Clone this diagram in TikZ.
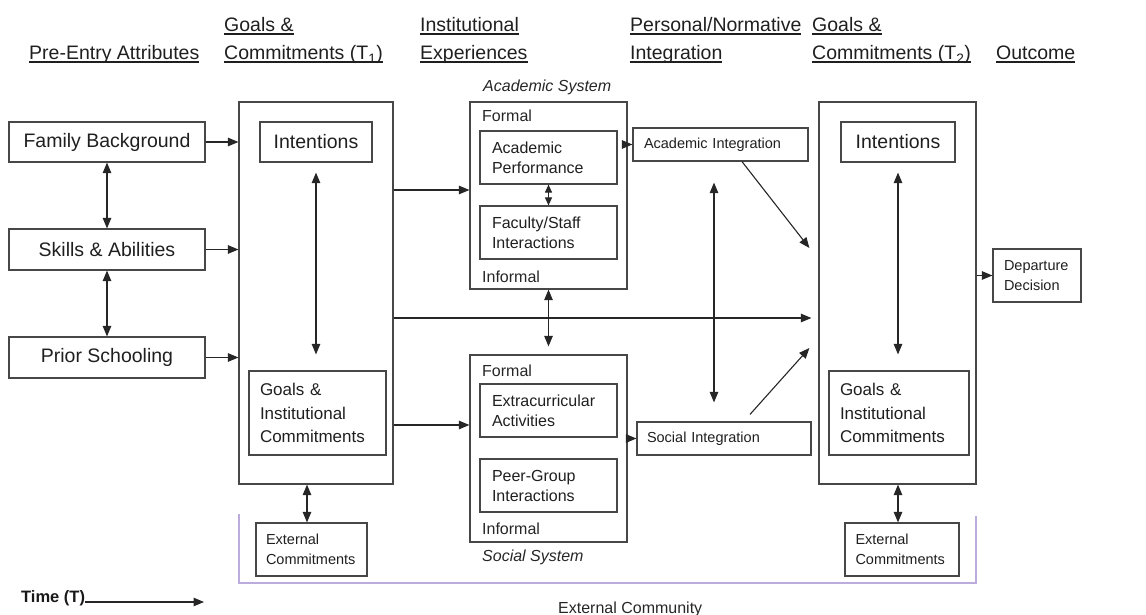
\documentclass[tikz,border=0pt]{standalone}
\usepackage{fontspec}
\setmainfont{Liberation Sans}
\usepackage{tikz}
\usetikzlibrary{arrows.meta}

\newcommand{\hdline}[1]{\setbox0=\hbox{#1}\rlap{\rule[-2.6pt]{\wd0}{1.1pt}}\box0}
\newcommand{\bigf}{\fontsize{19.5}{28}\selectfont}
\newcommand{\goalf}{\fontsize{17}{23.3}\selectfont}
\newcommand{\midf}{\fontsize{16}{20}\selectfont}
\newcommand{\smallf}{\fontsize{14.5}{19.5}\selectfont}
\definecolor{commline}{RGB}{188,172,222}

\tikzset{
    box/.style={draw=black!72, line width=1.2pt, inner sep=0pt, text=black!88},
    lbox/.style={box, align=left, inner xsep=11pt},
    hd/.style={anchor=base west, inner sep=0pt, font=\bigf, text=black!88},
    lbl/.style={anchor=base west, inner sep=0pt, font=\midf, text=black!85},
    conn/.style={line width=1.1pt, draw=black!85}
}

\begin{document}
\begin{tikzpicture}[x=1pt, y=-1pt, >={Triangle[length=10.5pt,width=8.5pt]}]
    \useasboundingbox (0,0) rectangle (1146,615);
    % column headers
    \node[hd] (hpre) at (29,60) {\hdline{Pre-Entry Attributes}};
    \node[hd] (hgoala) at (224,32) {\hdline{Goals \&}};
    \node[hd] (hgoalb) at (224,60) {\hdline{Commitments (T\textsubscript{1})}};
    \node[hd] (hinsta) at (420,32) {\hdline{Institutional}};
    \node[hd] (hinstb) at (420,60) {\hdline{Experiences}};
    \node[hd] (hpersa) at (630,32) {\hdline{Personal/Normative}};
    \node[hd] (hpersb) at (630,60) {\hdline{Integration}};
    \node[hd] (htwoa) at (812,32) {\hdline{Goals \&}};
    \node[hd] (htwob) at (812,60) {\hdline{Commitments (T\textsubscript{2})}};
    \node[hd] (hout) at (996,60) {\hdline{Outcome}};

    % pre-entry attributes
    \node[box, minimum width=196pt, minimum height=40pt, font=\bigf] (fam) at (107,142) {Family Background};
    \node[box, minimum width=196pt, minimum height=41pt, font=\bigf] (skill) at (107,249.5) {Skills \& Abilities};
    \node[box, minimum width=196pt, minimum height=41pt, font=\bigf] (prior) at (107,357.5) {Prior Schooling};

    % goals and commitments T1
    \node[box, minimum width=154pt, minimum height=382pt] (tone) at (316,293) {};
    \node[box, minimum width=112pt, minimum height=40pt, font=\bigf] (inta) at (316,142) {Intentions};
    \node[lbox, text width=115pt, minimum height=84pt, font=\goalf] (goala) at (317.5,413) {Goals \&\\Institutional\\Commitments};
    \node[lbox, inner xsep=10pt, text width=91pt, minimum height=53pt, font=\smallf] (exta) at (311.5,549.5) {External\\Commitments};

    % institutional experiences
    \node[box, minimum width=157pt, minimum height=187pt] (acad) at (548.5,195.5) {};
    \node[box, minimum width=157pt, minimum height=187pt] (soc) at (548.5,448.5) {};
    \node[lbox, inner xsep=12pt, text width=113pt, minimum height=53pt, font=\midf] (perf) at (548.5,157.5) {Academic\\Performance};
    \node[lbox, inner xsep=12pt, text width=113pt, minimum height=53pt, font=\midf] (fac) at (548.5,232.5) {Faculty/Staff\\Interactions};
    \node[lbox, inner xsep=12pt, text width=113pt, minimum height=53pt, font=\midf] (extra) at (548.5,410.5) {Extracurricular\\Activities};
    \node[lbox, inner xsep=12pt, text width=113pt, minimum height=53pt, font=\midf] (peer) at (548.5,485.5) {Peer-Group\\Interactions};
    \node[lbl, font=\midf\itshape] (acadsys) at (483,92) {Academic System};
    \node[lbl] (acadformal) at (482,122) {Formal};
    \node[lbl] (acadinformal) at (482,282) {Informal};
    \node[lbl] (socformal) at (482,376) {Formal};
    \node[lbl] (socinformal) at (482,534) {Informal};
    \node[lbl, font=\midf\itshape] (socsys) at (482,561) {Social System};

    % integration
    \node[lbox, text width=153pt, minimum height=33pt, font=\smallf] (acint) at (720.5,144.5) {Academic Integration};
    \node[lbox, inner xsep=10pt, text width=154pt, minimum height=33pt, font=\smallf] (socint) at (724,438.5) {Social Integration};

    % goals and commitments T2
    \node[box, minimum width=157pt, minimum height=382pt] (ttwo) at (897.5,293) {};
    \node[box, minimum width=114pt, minimum height=40pt, font=\bigf] (intb) at (898,142) {Intentions};
    \node[lbox, text width=118pt, minimum height=84pt, font=\goalf] (goalb) at (899,413) {Goals \&\\Institutional\\Commitments};
    \node[lbox, inner xsep=10.5pt, text width=93pt, minimum height=53pt, font=\smallf] (extb) at (902,549.5) {External\\Commitments};

    % outcome
    \node[lbox, text width=66pt, minimum height=53pt, font=\smallf] (dep) at (1037,275.5) {Departure\\Decision};

    % time and community
    \node[anchor=base west, inner sep=0pt, font=\fontsize{16.5}{20}\selectfont\bfseries, text=black!90] (time) at (21,602) {Time (T)};
    \coordinate (tend) at (204,602);
    \node[anchor=base west, inner sep=0pt, font=\fontsize{16}{20}\selectfont, text=black!85] (comm) at (558,613.5) {External Community};
    \draw[commline, line width=1.2pt] (239,514) -- (239,583) -- (976,583) -- (976,516);

    % connectors
    \draw[conn,->] (fam.east) -- (fam.east -| tone.west);
    \draw[conn,->] (skill.east) -- (skill.east -| tone.west);
    \draw[conn,->] (prior.east) -- (prior.east -| tone.west);
    \draw[conn,<->] (fam.south) -- (skill.north);
    \draw[conn,<->] (skill.south) -- (prior.north);
    \draw[conn,<->, shorten <=10pt, shorten >=16pt] (inta.south) -- (inta.south |- goala.north);
    \draw[conn,<->] ([xshift=-4.5pt]exta.north |- tone.south) -- ([xshift=-4.5pt]exta.north);
    \draw[conn,->] ([yshift=5.5pt]tone.east |- acad.west) -- ([yshift=5.5pt]acad.west);
    \draw[conn,->] ([yshift=-12pt]tone.east |- goala.east) -- ([yshift=-12pt]soc.west |- goala.east);
    \draw[conn,{Triangle[length=8pt,width=7pt]}-{Triangle[length=8pt,width=7pt]}] (perf.south) -- (fac.north);
    \draw[conn,<->, shorten >=8pt] (acad.south) -- (soc.north);
    \draw[conn,->, shorten >=7pt] ([yshift=-25pt]tone.east) -- ([yshift=-25pt]ttwo.west);
    \draw[conn,->] (acad.east |- acint.west) -- (acint.west);
    \draw[conn,->] (soc.east |- socint.west) -- (socint.west);
    \draw[conn,<->, shorten <=21pt, shorten >=19pt] ([xshift=-6.5pt]acint.south) -- ([xshift=-6.5pt]acint.south |- socint.north);
    \draw[conn,->] ([xshift=21.5pt]acint.south) -- ([xshift=-9pt,yshift=45pt]ttwo.west);
    \draw[conn,->] ([xshift=26pt,yshift=7pt]socint.north) -- ([xshift=-9pt,yshift=-55pt]ttwo.west);
    \draw[conn,<->, shorten <=10pt, shorten >=16pt] (intb.south) -- (intb.south |- goalb.north);
    \draw[conn,<->] ([xshift=-4pt]extb.north |- ttwo.south) -- ([xshift=-4pt]extb.north);
    \draw[conn,->] (ttwo.east |- dep.west) -- (dep.west);
    \draw[conn,->] (time.base east) -- (tend);
\end{tikzpicture}
\end{document}
